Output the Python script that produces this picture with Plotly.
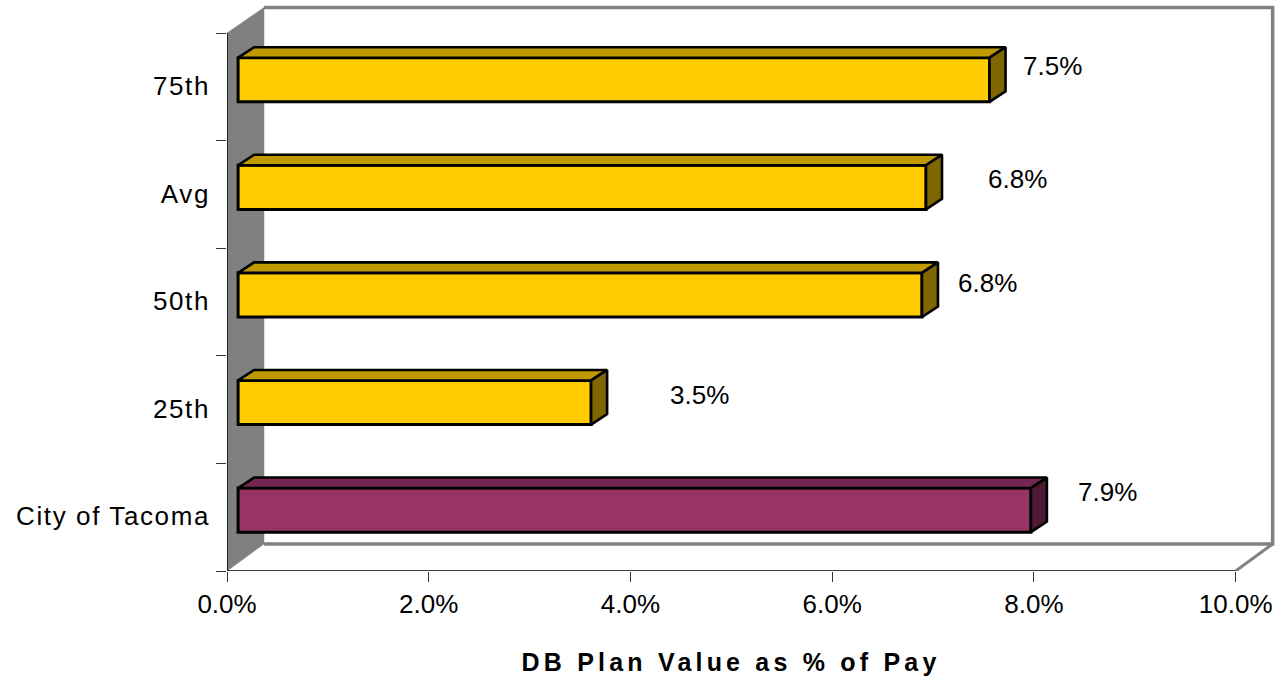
import numpy as np
import plotly.graph_objects as go

categories = ["City of Tacoma", "25th", "50th", "Avg", "75th"]
values = [7.86, 3.50, 6.78, 6.82, 7.45]
label_texts = ["7.9%", "3.5%", "6.8%", "6.8%", "7.5%"]
x_ticks = [0, 2, 4, 6, 8, 10]
x_tick_text = ["0.0%", "2.0%", "4.0%", "6.0%", "8.0%", "10.0%"]

FRONT = ["#993366", "#FFCC00", "#FFCC00", "#FFCC00", "#FFCC00"]
TOP = ["#732650", "#BF9900", "#BF9900", "#BF9900", "#BF9900"]
SIDE = ["#4D1933", "#806600", "#806600", "#806600", "#806600"]

PX_X = 100.9
PX_Y = 107.6
BASE = 0.11
SHIFT = 0.066
BAR_W = 0.41
DX = 16 / PX_X
DY = 10.5 / PX_Y
WALL_DX = 37 / PX_X
WALL_TOP_DY = 25.5 / PX_Y
WALL_BOT_DY = 27 / PX_Y
LABEL_DX = [0.76, 1.07, 0.65, 0.91, 0.62]
LABEL_DY = [0.235, 0.14, 0.18, 0.145, 0.19]

positions = np.arange(len(categories))
n = len(categories)

fig = go.Figure()

fig.add_trace(go.Bar(
    y=positions + SHIFT, x=values, base=BASE, orientation="h", width=BAR_W,
    marker=dict(color=FRONT, line=dict(color="black", width=3)),
    showlegend=False, hoverinfo="skip"))

for i, v in enumerate(values):
    x1 = BASE + v
    lo = i + SHIFT - BAR_W / 2
    hi = i + SHIFT + BAR_W / 2
    fig.add_trace(go.Scatter(
        x=[BASE, BASE + DX, x1 + DX, x1, BASE],
        y=[hi, hi + DY, hi + DY, hi, hi],
        mode="lines", fill="toself", fillcolor=TOP[i],
        line=dict(color="black", width=2.6), showlegend=False, hoverinfo="skip"))
    fig.add_trace(go.Scatter(
        x=[x1, x1 + DX, x1 + DX, x1, x1],
        y=[lo, lo + DY, hi + DY, hi, lo],
        mode="lines", fill="toself", fillcolor=SIDE[i],
        line=dict(color="black", width=2.6), showlegend=False, hoverinfo="skip"))

# axis lines (they stop at the axis ends, unlike the extended plot area)
fig.add_trace(go.Scatter(x=[0, 10], y=[-0.5, -0.5], mode="lines", cliponaxis=False,
                         line=dict(color="black", width=1.5), showlegend=False, hoverinfo="skip"))
fig.add_trace(go.Scatter(x=[0, 0], y=[-0.5, n - 0.5], mode="lines", cliponaxis=False,
                         line=dict(color="black", width=1.5), showlegend=False, hoverinfo="skip"))

top = n - 0.5 + WALL_TOP_DY
bot = -0.5 + WALL_BOT_DY
GRAY = "#808080"
shapes = [
    dict(type="path",
         path=f"M {WALL_DX} {top} L {10 + WALL_DX} {top} L {10 + WALL_DX} {bot} L {WALL_DX} {bot}",
         fillcolor="rgba(0,0,0,0)", line=dict(color=GRAY, width=3.5), layer="below"),
    dict(type="path",
         path=f"M 0 -0.5 L {WALL_DX} {bot} L {WALL_DX} {top} L 0 {n - 0.5} Z",
         fillcolor=GRAY, line=dict(color=GRAY, width=0.5), layer="below"),
    dict(type="line", x0=10, x1=10 + WALL_DX, y0=-0.5, y1=bot,
         line=dict(color=GRAY, width=3), layer="below"),
]

annotations = [
    dict(x=BASE + v + LABEL_DX[i], y=i + LABEL_DY[i], text=label_texts[i], showarrow=False,
         xanchor="center", yanchor="middle", font=dict(size=26, color="black"))
    for i, v in enumerate(values)
]
annotations.append(dict(
    x=5.0, xref="x", y=-(662 - 571) / 567, yref="paper", yanchor="middle", xanchor="center",
    showarrow=False, text="<b>DB Plan Value as % of Pay</b>", font=dict(size=25, color="black")))

fig.update_layout(
    width=1282, height=680, autosize=False,
    margin=dict(l=227, r=7, t=4, b=109),
    paper_bgcolor="white", plot_bgcolor="white",
    font=dict(family="Liberation Sans, Arial, sans-serif", color="black", size=26),
    shapes=shapes, annotations=annotations,
    xaxis=dict(range=[0, 10.39], tickmode="array", tickvals=x_ticks, ticktext=x_tick_text,
               ticks="outside", ticklen=10, tickwidth=1.2, tickcolor="#333333",
               showgrid=False, zeroline=False, showline=False),
    yaxis=dict(range=[-0.5, n - 0.5 + 0.27], tickmode="array", tickvals=positions.tolist(),
               ticktext=categories, ticks="", ticklabelstandoff=16, ticklabelshift=-1,
               minor=dict(tickmode="array", tickvals=(positions - 0.5).tolist() + [n - 0.5],
                          ticks="outside", ticklen=10, tickwidth=1.2, tickcolor="#333333",
                          showgrid=False),
               showgrid=False, zeroline=False, showline=False),
)

post = """
document.body.style.margin='0';
document.querySelectorAll('.annotation-text').forEach(function(t){
  if (t.textContent.indexOf('DB Plan')===0) t.style.letterSpacing='4.2px';
});
document.querySelectorAll('.ytick text').forEach(function(t){t.style.letterSpacing='1.6px';});
"""
fig.write_html("out.html", post_script=post, config=dict(displayModeBar=False))
